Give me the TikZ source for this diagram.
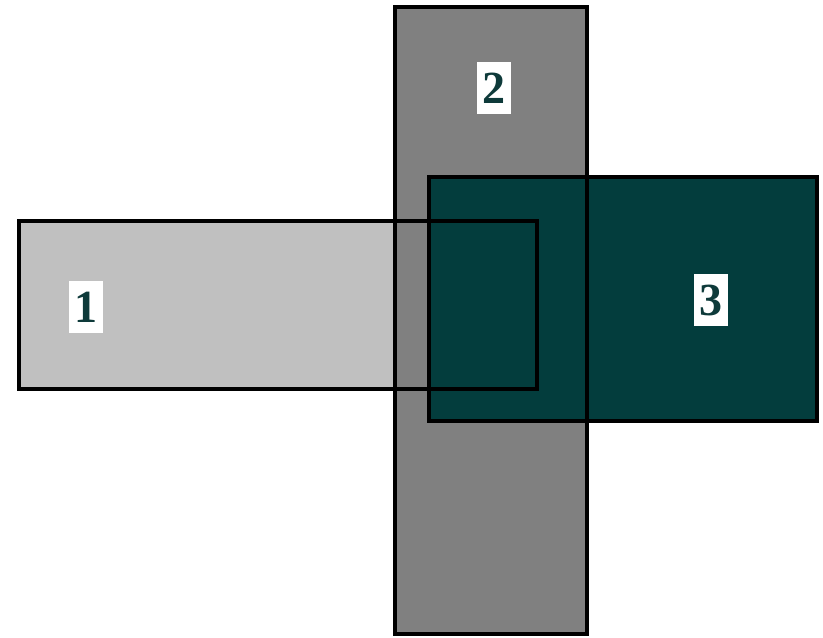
\documentclass[tikz,border=0pt]{standalone}
\usepackage{fontspec}
\setmainfont{Liberation Serif}
\usepackage{xcolor}
\definecolor{mylight}{RGB}{192,192,192}
\definecolor{mygray}{RGB}{128,128,128}
\definecolor{myteal}{RGB}{3,61,61}
\definecolor{mytext}{RGB}{14,58,58}

\begin{document}
\begin{tikzpicture}[x=1pt,y=-1pt,
  lbl/.style={fill=white, text=mytext, inner sep=0pt,
    font=\bfseries\fontsize{46}{46}\selectfont,
    minimum width=34pt, minimum height=52pt}]
  \useasboundingbox[fill=white] (0,0) rectangle (823,638);

  % fills first
  \fill[mylight] (19,221) rectangle (537,389);
  \fill[mygray] (395,7) rectangle (587,634);
  \fill[myteal] (429,177) rectangle (817,421);

  % outlines on top
  \draw[line width=4.5pt] (19,221) rectangle (537,389);
  \draw[line width=4.5pt] (395,7) rectangle (587,634);
  \draw[line width=4.5pt] (429,177) rectangle (817,421);

  \node[lbl] (one) at (86,307) {1};
  \node[lbl] (two) at (494,88) {2};
  \node[lbl] (three) at (711,300) {3};

\end{tikzpicture}
\end{document}
